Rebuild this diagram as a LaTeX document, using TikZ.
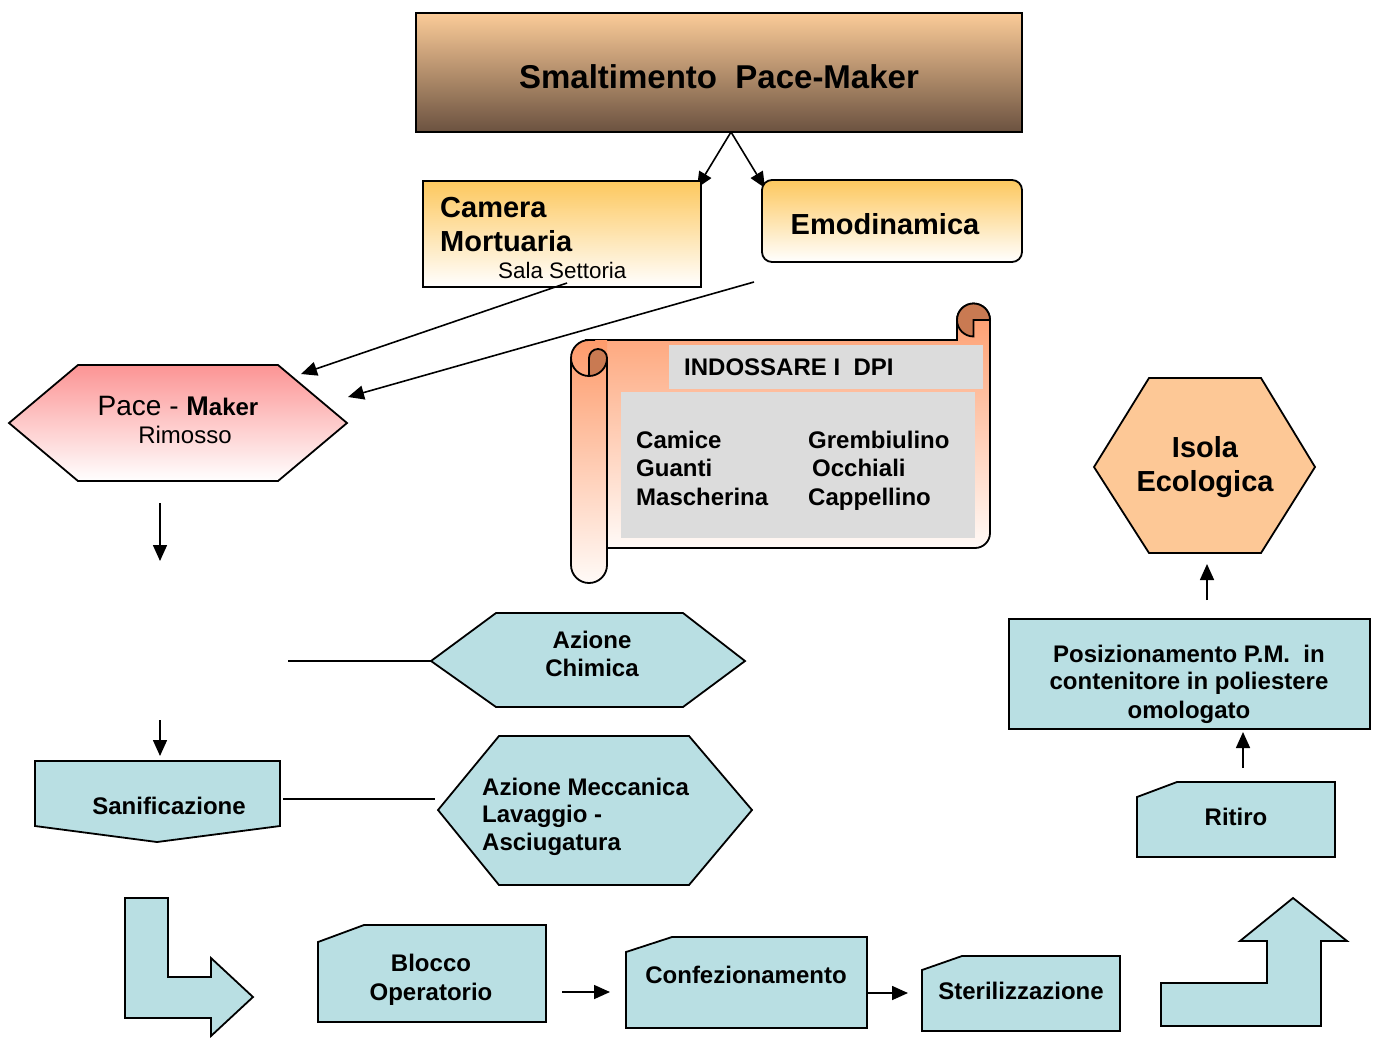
\documentclass[tikz,border=0pt]{standalone}
\usepackage{fontspec}
\setmainfont{Liberation Sans}
\usetikzlibrary{arrows.meta}
\definecolor{titletop}{HTML}{FBCB98}
\definecolor{titlebot}{HTML}{6B5240}
\definecolor{yell}{HTML}{FDC85E}
\definecolor{pinkc}{HTML}{FC9494}
\definecolor{scrtop}{HTML}{FE9B6B}
\definecolor{scrbot}{HTML}{FFFAF7}
\definecolor{rolldark}{HTML}{C97A52}
\definecolor{grayc}{HTML}{DCDCDC}
\definecolor{tealc}{HTML}{B9DFE3}
\definecolor{isolac}{HTML}{FDC896}
\begin{document}
\begin{tikzpicture}[x=1pt,y=-1pt,
  box/.style={draw=black, line width=1.8pt},
  tealbox/.style={box, fill=tealc},
  arr/.style={-{Triangle[length=16pt,width=14pt]}, line width=1.6pt},
  conn/.style={line width=1.8pt},
  tb/.style={font=\fontsize{24}{28}\selectfont\bfseries, inner sep=0pt, anchor=base},
  tbl/.style={tb, anchor=base west},
  tbig/.style={font=\fontsize{29}{34}\selectfont\bfseries, inner sep=0pt, anchor=base},
]
\useasboundingbox (0,0) rectangle (1378,1037);

% ---------- title ----------
\draw[box, top color=titletop, bottom color=titlebot] (416,13) rectangle (1022,132);
\node[font=\fontsize{33}{38}\selectfont\bfseries, inner sep=0pt, anchor=base] (title) at (719,88) {Smaltimento\ \ Pace-Maker};
\coordinate (tsplit) at (731,132);
\coordinate (camIn) at (697,188);
\coordinate (emoIn) at (765,188);
\draw[arr] (tsplit) -- (camIn);
\draw[arr] (tsplit) -- (emoIn);

% ---------- Camera Mortuaria ----------
\draw[box, top color=yell, bottom color=white] (423,181) rectangle (701,287);
\node[tbig, anchor=base west] (cam1) at (440,217) {Camera};
\node[tbig, anchor=base west] (cam2) at (440,251) {Mortuaria};
\node[font=\fontsize{22.4}{26}\selectfont, inner sep=0pt, anchor=base west] (sala) at (498,278) {Sala Settoria};

% ---------- Emodinamica ----------
\draw[box, rounded corners=10pt, top color=yell, bottom color=white] (762,180) rectangle (1022,262);
\node[tbig] (emo) at (885,234.4) {Emodinamica};

% ---------- Pace-Maker ----------
\draw[box, top color=pinkc, bottom color=white] (9,423) -- (78,365) -- (278,365) -- (347,423) -- (278,481) -- (78,481) -- cycle;
\node[inner sep=0pt, anchor=base] (pace) at (178,415) {{\fontsize{28}{32}\selectfont Pace - }{\fontsize{27}{30}\selectfont\bfseries M}{\fontsize{24}{30}\selectfont\bfseries aker}};
\node[font=\fontsize{24}{28}\selectfont, inner sep=0pt, anchor=base] (rimosso) at (185,443.6) {Rimosso};
\coordinate (camOut) at (567,283);
\coordinate (paceIn1) at (301,374);
\coordinate (emoOut) at (754,282);
\coordinate (paceIn2) at (348,397);
\draw[arr] (camOut) -- (paceIn1);
\draw[arr] (emoOut) -- (paceIn2);
\coordinate (paceOut) at (160,503);
\coordinate (paceDown) at (160,561);
\draw[arr] (paceOut) -- (paceDown);

% ---------- scroll ----------
\draw[box, top color=scrtop, bottom color=scrbot] (585,340) -- (957,340) -- (957,320)
  arc[start angle=180, end angle=0, radius=16.5pt] -- (990,533)
  arc[start angle=0, end angle=-90, radius=15pt] -- (600,548);
\filldraw[fill=rolldark, draw=black, line width=1.8pt] (973.5,336.5) arc[start angle=270, end angle=0, radius=16.5pt] -- (973.5,320) -- cycle;
% left roll
\path[top color=scrtop, bottom color=scrbot] (607,358) -- (607,565) arc[start angle=0, end angle=-180, radius=18pt] -- (571,358) arc[start angle=180, end angle=90, radius=18pt] -- (607,340) -- cycle;
\draw[line width=1.8pt] (607,358) -- (607,565) arc[start angle=0, end angle=-180, radius=18pt] -- (571,358) arc[start angle=180, end angle=90, radius=18pt] -- (595,340);
\filldraw[fill=rolldark, draw=black, line width=1.8pt] (589,376) -- (589,358) arc[start angle=180, end angle=0, radius=9pt] arc[start angle=0, end angle=-90, radius=18pt] -- cycle;
\draw[line width=1.8pt] (571,358) arc[start angle=180, end angle=270, radius=18pt];
\fill[grayc] (669,345) rectangle (983,389);
\fill[grayc] (621,392) rectangle (975,538);
\node[tbl] (dpi) at (684,375.5) {INDOSSARE I\ \ DPI};
\node[tbl] (d1) at (636,448.6) {Camice};
\node[tbl] (d2) at (636,476.6) {Guanti};
\node[tbl] (d3) at (636,505.6) {Mascherina};
\node[tbl] (d4) at (808,448.6) {Grembiulino};
\node[tbl] (d5) at (812,476.6) {Occhiali};
\node[tbl] (d6) at (808,505.6) {Cappellino};

% ---------- Isola Ecologica ----------
\draw[box, fill=isolac] (1094,467) -- (1149,378) -- (1261,378) -- (1315,467) -- (1261,553) -- (1149,553) -- cycle;
\node[tbig] (isola1) at (1205,457.4) {Isola};
\node[tbig] (isola2) at (1205,491.4) {Ecologica};
\coordinate (posOut) at (1207,600);
\coordinate (isolaIn) at (1207,564);
\draw[arr] (posOut) -- (isolaIn);

% ---------- Posizionamento ----------
\draw[tealbox] (1009,619) rectangle (1370,729);
\node[tb] (pos1) at (1189,662.6) {Posizionamento P.M.\ \ in};
\node[tb] (pos2) at (1189,689.6) {contenitore in poliestere};
\node[tb] (pos3) at (1189,718.6) {omologato};
\coordinate (ritOut) at (1243,768);
\coordinate (posIn) at (1243,732);
\draw[arr] (ritOut) -- (posIn);

% ---------- Ritiro ----------
\draw[tealbox] (1137,797) -- (1177,782) -- (1335,782) -- (1335,857) -- (1137,857) -- cycle;
\node[tb] (ritiro) at (1236,825.6) {Ritiro};

% ---------- bent arrow up ----------
\draw[tealbox] (1161,1026) -- (1161,983) -- (1267,983) -- (1267,941) -- (1240,941) -- (1293,898) -- (1347,941) -- (1321,941) -- (1321,1026) -- cycle;

% ---------- bottom row ----------
\draw[tealbox] (922,970) -- (962,956) -- (1120,956) -- (1120,1031) -- (922,1031) -- cycle;
\node[tb] (steril) at (1021,999.6) {Sterilizzazione};
\draw[tealbox] (626,952) -- (672,937) -- (867,937) -- (867,1028) -- (626,1028) -- cycle;
\node[tb] (confez) at (746,983.6) {Confezionamento};
\draw[tealbox] (318,942) -- (364,925) -- (546,925) -- (546,1022) -- (318,1022) -- cycle;
\node[tb] (blocco1) at (431,971.6) {Blocco};
\node[tb] (blocco2) at (431,1000.6) {Operatorio};
\coordinate (bloccoOut) at (562,992);
\coordinate (confezIn) at (610,992);
\draw[arr] (bloccoOut) -- (confezIn);
\coordinate (confezOut) at (868,993);
\coordinate (sterilIn) at (908,993);
\draw[arr] (confezOut) -- (sterilIn);

% ---------- bent arrow right ----------
\draw[tealbox] (125,898) -- (168,898) -- (168,977) -- (211,977) -- (211,958) -- (253,997) -- (211,1036) -- (211,1018) -- (125,1018) -- cycle;

% ---------- Sanificazione ----------
\draw[tealbox] (35,761) -- (280,761) -- (280,826) -- (157,842) -- (35,826) -- cycle;
\node[tb] (sanif) at (169,814.6) {Sanificazione};
\coordinate (sanIn) at (160,720);
\coordinate (sanTop) at (160,756);
\draw[arr] (sanIn) -- (sanTop);

% ---------- Azione Chimica ----------
\draw[tealbox] (431,661) -- (496,613) -- (683,613) -- (745,661) -- (683,707) -- (496,707) -- cycle;
\node[tb] (chim1) at (592,648.6) {Azione};
\node[tb] (chim2) at (592,676.6) {Chimica};
\coordinate (chimLineStart) at (288,661);
\coordinate (chimLeft) at (431,661);
\draw[conn] (chimLineStart) -- (chimLeft);

% ---------- Azione Meccanica ----------
\draw[tealbox] (438,810) -- (499,736) -- (689,736) -- (752,810) -- (689,885) -- (499,885) -- cycle;
\node[tbl] (mec1) at (482,795.6) {Azione Meccanica};
\node[tbl] (mec2) at (482,822.6) {Lavaggio -};
\node[tbl] (mec3) at (482,850.6) {Asciugatura};
\coordinate (sanRight) at (283,799);
\coordinate (mecLeft) at (435,799);
\draw[conn] (sanRight) -- (mecLeft);
\end{tikzpicture}
\end{document}
